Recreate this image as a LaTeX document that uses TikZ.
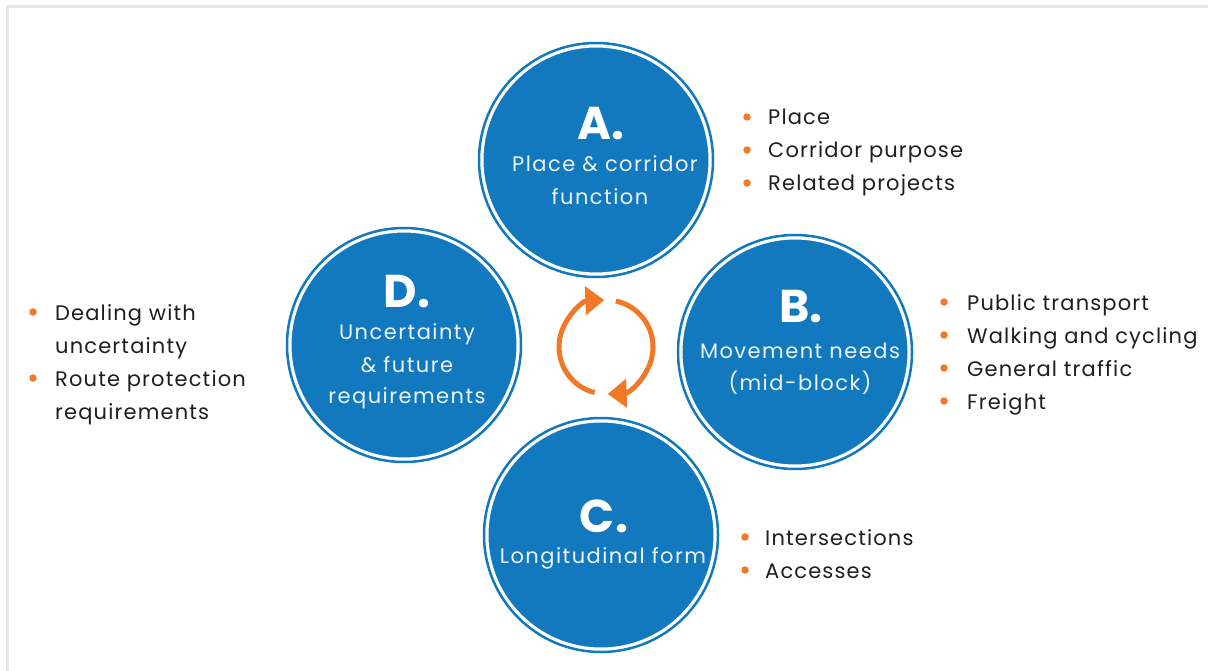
\documentclass[tikz,border=0pt]{standalone}
\usepackage{fontspec}
\setmainfont{Poppins}
\newfontfamily\itemfont[LetterSpace=5.5]{Poppins}
\newfontfamily\lblfont[LetterSpace=7]{Poppins}
\usetikzlibrary{arrows.meta}
\definecolor{cblue}{RGB}{18,121,190}
\definecolor{corange}{RGB}{240,121,40}
\definecolor{cframe}{RGB}{230,230,230}
\definecolor{ctext}{RGB}{30,30,30}
\tikzset{
  disc/.style={circle, fill=cblue, draw=white, line width=3pt, minimum size=228pt, inner sep=0pt},
  ring/.style={draw=cblue, line width=2.5pt},
  letter/.style={anchor=base, text=white, font=\fontsize{46}{46}\selectfont\bfseries, inner sep=0pt},
  lbl/.style={anchor=base, text=white!92!cblue, font=\lblfont\fontsize{21}{21}\selectfont, inner sep=0pt},
  item/.style={anchor=base west, text=ctext, font=\itemfont\fontsize{21}{21}\selectfont, inner sep=0pt},
  dot/.style={circle, fill=corange, inner sep=0pt, minimum size=7.5pt},
  cyc/.style={draw=corange, line width=5pt, -{Triangle[length=19pt,width=28pt]}}
}
\begin{document}
\begin{tikzpicture}[x=1pt,y=-1pt]
\useasboundingbox (0,0) rectangle (1208,671);
% frame
\draw[cframe, line width=3pt] (7,671) -- (7,7) -- (1208,7);
% circles
\node[disc] (A) at (596,160) {};
\node[disc] (B) at (795,352) {};
\node[disc] (C) at (601,535) {};
\node[disc] (D) at (404,345) {};
\foreach \n in {A,B,C,D} \draw[ring] (\n) circle[radius=117];
% texts in circles
\node[letter] (Al) at (601,140) {A.};
\node[lbl] (A1) at (605,172) {Place \& corridor};
\node[lbl] (A2) at (600,205) {function};
\node[letter] (Bl) at (801,323) {B.};
\node[lbl] (B1) at (800,358) {Movement needs};
\node[lbl] (B2) at (800,390) {(mid-block)};
\node[letter] (Cl) at (604,532) {C.};
\node[lbl] (C1) at (603,563) {Longitudinal form};
\node[letter] (Dl) at (407,307) {D.};
\node[lbl] (D1) at (407,339) {Uncertainty};
\node[lbl] (D2) at (407,372) {\& future};
\node[lbl] (D3) at (407,403) {requirements};
% cycle arrows
\coordinate (O) at (606,347);
\draw[cyc] ([shift={(104:47)}]O) arc[start angle=104, end angle=268, radius=47];
\draw[cyc] ([shift={(282:47)}]O) arc[start angle=282, end angle=448, radius=47];
% lists
\foreach \t/\yy [count=\i] in {Place/125, Corridor purpose/158, Related projects/191}{
  \node[dot] (ad\i) at (747,\yy-8) {};
  \node[item] (at\i) at (768,\yy) {\t};
}
\foreach \t/\yy [count=\i] in {Public transport/310, Walking and cycling/343, General traffic/376, Freight/409}{
  \node[dot] (bd\i) at (944,\yy-8) {};
  \node[item] (bt\i) at (967,\yy) {\t};
}
\foreach \t/\yy [count=\i] in {Intersections/545, Accesses/578}{
  \node[dot] (cd\i) at (745,\yy-8) {};
  \node[item] (ct\i) at (765,\yy) {\t};
}
\node[dot] (dd1) at (33,312) {};
\node[item] (dt1) at (55,320) {Dealing with};
\node[item] (dt2) at (55,353) {uncertainty};
\node[dot] (dd2) at (33,378) {};
\node[item] (dt3) at (55,386) {Route protection};
\node[item] (dt4) at (55,419) {requirements};
\end{tikzpicture}
\end{document}
